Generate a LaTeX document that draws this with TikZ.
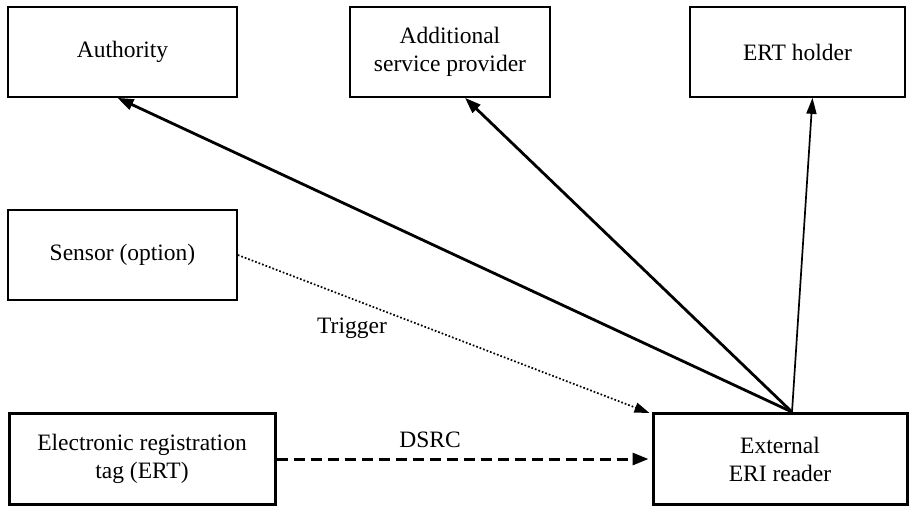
\documentclass[tikz,border=0pt]{standalone}
\usepackage{fontspec}
\setmainfont{Liberation Serif}
\usetikzlibrary{arrows.meta}
\begin{document}
\begin{tikzpicture}[x=1pt,y=-1pt,
  box/.style={draw,rectangle,line width=1.7pt,align=center,font=\fontsize{23.5}{28}\selectfont,inner sep=0pt},
  thickbox/.style={box,line width=3pt},
  conn/.style={line width=2.8pt,-{Triangle[length=16pt,width=11pt]}},
  thinconn/.style={line width=1.7pt,-{Triangle[length=16pt,width=10pt]}},
  lbl/.style={font=\fontsize{23.5}{28}\selectfont}]
\useasboundingbox (0,0) rectangle (909,507);
\node[box,minimum width=229pt,minimum height=90pt] (auth) at (122.5,52) {Authority};
\node[box,minimum width=200pt,minimum height=90pt] (asp) at (450,52) {Additional\\service provider};
\node[box,minimum width=215pt,minimum height=90pt] (holder) at (797.5,52) {ERT holder};
\node[box,minimum width=229pt,minimum height=90pt] (sensor) at (122.5,255) {Sensor (option)};
\node[thickbox,minimum width=266pt,minimum height=91pt] (ert) at (142,459) {Electronic registration\\tag (ERT)};
\node[thickbox,minimum width=254pt,minimum height=91pt] (reader) at (780,459) {External\\ERI reader};
\coordinate (apex) at ([xshift=12pt]reader.north);
\draw[conn] (apex) -- ([xshift=-5pt]auth.south);
\draw[conn] (apex) -- ([xshift=15pt]asp.south);
\draw[thinconn] (apex) -- ([xshift=15pt]holder.south);
\draw[line width=1.7pt,dotted,-{Triangle[length=15pt,width=10pt]}] (sensor.east) -- ([shift={(-2pt,-1pt)}]reader.north west);
\draw[line width=3pt,dash pattern=on 11pt off 6pt,-{Triangle[length=16pt,width=12pt]}] (ert.east) -- ([xshift=-3pt]reader.west);
\node[lbl] (trig) at (352,328) {Trigger};
\node[lbl] (dsrc) at (430,440) {DSRC};
\end{tikzpicture}
\end{document}
